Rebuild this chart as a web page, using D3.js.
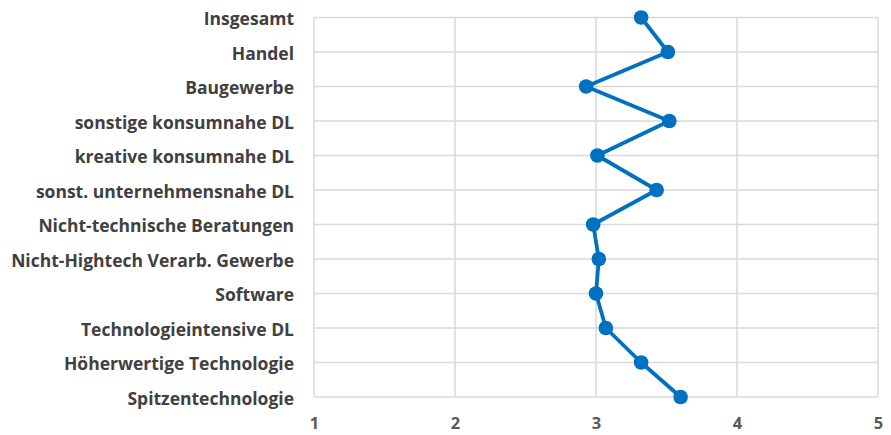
<!DOCTYPE html>
<html><head><meta charset="utf-8">
<script src="https://cdn.jsdelivr.net/npm/d3@7"></script>
<style>body{margin:0;background:#fff}svg{display:block}</style>
</head><body>
<svg id="c" width="891" height="435"></svg>
<script>
const categories = ["Insgesamt","Handel","Baugewerbe","sonstige konsumnahe DL","kreative konsumnahe DL","sonst. unternehmensnahe DL","Nicht-technische Beratungen","Nicht-Hightech Verarb. Gewerbe","Software","Technologieintensive DL","Höherwertige Technologie","Spitzentechnologie"];
const values = [3.32,3.51,2.93,3.52,3.01,3.43,2.98,3.02,3.00,3.07,3.32,3.60];
const xTicks = [1,2,3,4,5];

(function(){
const svg = d3.select("#c");
const mL = 314, mR = 878, mT = 17.5, mB = 397;
const x = d3.scaleLinear().domain([1,5]).range([mL,mR]);
const y = d3.scalePoint().domain(categories).range([mT,mB]);
const font = "'Open Sans', 'Liberation Sans', sans-serif";
const grid = "#d9d9d9";

svg.append("g").selectAll("line").data(categories).join("line")
  .attr("x1", mL).attr("x2", mR)
  .attr("y1", d=>y(d)).attr("y2", d=>y(d))
  .attr("stroke", grid).attr("stroke-width", 1.5);
svg.append("g").selectAll("line").data(xTicks).join("line")
  .attr("x1", d=>x(d)).attr("x2", d=>x(d))
  .attr("y1", mT).attr("y2", mB)
  .attr("stroke", grid).attr("stroke-width", 1.5);

const xa = svg.append("g").attr("transform", `translate(0,${mB})`)
  .call(d3.axisBottom(x).tickValues(xTicks).tickFormat(d3.format("d")).tickSize(0).tickPadding(20));
xa.select(".domain").remove();
xa.selectAll("text").attr("font-family", font).attr("font-weight", "bold")
  .attr("font-size", 16.5).attr("fill", "#595959");

const ya = svg.append("g").attr("transform", `translate(${mL},0)`)
  .call(d3.axisLeft(y).tickSize(0).tickPadding(20));
ya.select(".domain").remove();
ya.selectAll("text").attr("font-family", font).attr("font-weight", "bold")
  .attr("font-size", 17.5).attr("fill", "#404040").attr("dy", "0.4em");

const line = d3.line().x(d=>x(d)).y((d,i)=>y(categories[i]));
svg.append("path").datum(values).attr("d", line)
  .attr("fill","none").attr("stroke","#0070C0").attr("stroke-width",3.8).attr("stroke-linejoin","round");
svg.append("g").selectAll("circle").data(values).join("circle")
  .attr("cx", d=>x(d)).attr("cy", (d,i)=>y(categories[i])).attr("r", 7.3)
  .attr("fill", "#0070C0");
})();
</script>
</body></html>
